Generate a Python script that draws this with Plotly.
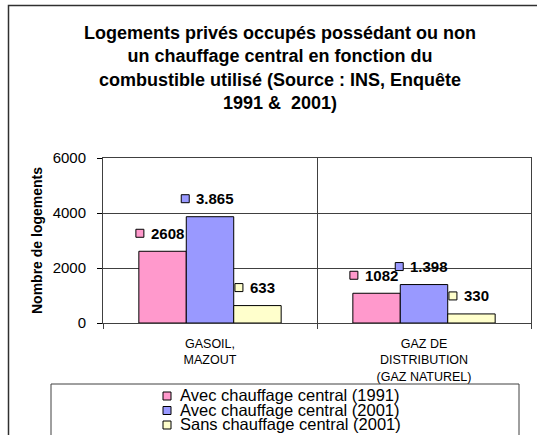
import plotly.graph_objects as go

# ---- data ----
categories = ["GASOIL,<br>MAZOUT", "GAZ DE<br>DISTRIBUTION<br>(GAZ NATUREL)"]
series_names = ["Avec chauffage central (1991)",
                "Avec chauffage central (2001)",
                "Sans chauffage central (2001)"]
values_1991_avec = [2608, 1082]
values_2001_avec = [3865, 1398]
values_2001_sans = [633, 330]
label_1991_avec = ["2608", "1082"]
label_2001_avec = ["3.865", "1.398"]
label_2001_sans = ["633", "330"]
y_ticks = [0, 2000, 4000, 6000]

series_values = [values_1991_avec, values_2001_avec, values_2001_sans]
series_labels = [label_1991_avec, label_2001_avec, label_2001_sans]
colors = ["#FF99CC", "#9999FF", "#FFFFCC"]

FONT = "Liberation Sans, Arial, sans-serif"
W, H = 537, 435
ML, MR, MT, MB = 103, 6, 158, 112
PW = W - ML - MR
PH = H - MT - MB
BARGAP = 0.335
NSER = len(series_values)
BW = (1 - BARGAP) / NSER


def px(xp):
    return (xp - ML) / PW


def py(yp):
    return (H - MB - yp) / PH


fig = go.Figure()
for name, vals, col in zip(series_names, series_values, colors):
    fig.add_trace(go.Bar(
        x=categories, y=vals, name=name,
        marker=dict(color=col, line=dict(color="black", width=1)),
        showlegend=False,
    ))

annotations = []
shapes = []
LBL_SIZE = 15
for k, (vals, labs, col) in enumerate(zip(series_values, series_labels, colors)):
    for i, (v, t) in enumerate(zip(vals, labs)):
        xc = i + (k - (NSER - 1) / 2) * BW
        tw = sum(0.278 if c == "." else 0.556 for c in t) * LBL_SIZE
        g = 9 + 5 + tw
        left = -g / 2 - 3
        shapes.append(dict(
            type="rect", xref="x", yref="y", xsizemode="pixel", ysizemode="pixel",
            xanchor=xc, yanchor=v, x0=left, x1=left + 8, y0=14, y1=22,
            fillcolor=col, line=dict(color="black", width=1), layer="above"))
        annotations.append(dict(
            x=xc, y=v, xref="x", yref="y", text="<b>%s</b>" % t,
            showarrow=False, xanchor="left", yanchor="middle",
            xshift=left + 13, yshift=18,
            font=dict(family=FONT, size=LBL_SIZE, color="black")))

# outer chart frame
shapes.append(dict(type="rect", xref="paper", yref="paper",
                   x0=px(8.5), x1=px(560), y0=py(5.5), y1=py(460),
                   line=dict(color="#303030", width=1.5), layer="above"))

# legend box (drawn manually)
shapes.append(dict(type="rect", xref="paper", yref="paper",
                   x0=px(51), x1=px(519), y0=py(384), y1=py(450),
                   line=dict(color="#404040", width=1), fillcolor="white", layer="above"))
leg_y = [396, 410.5, 425]
for name, col, yy in zip(series_names, colors, leg_y):
    shapes.append(dict(type="rect", xref="paper", yref="paper",
                       x0=px(163), x1=px(171), y0=py(yy - 4), y1=py(yy + 4),
                       fillcolor=col, line=dict(color="black", width=1), layer="above"))
    annotations.append(dict(x=px(178), y=py(yy - 1), xref="paper", yref="paper",
                            text=name, showarrow=False, xanchor="left", yanchor="middle",
                            font=dict(family=FONT, size=16.5, color="black")))

fig.update_layout(
    template="none",
    width=W, height=H,
    margin=dict(l=ML, r=MR, t=MT, b=MB, pad=0),
    paper_bgcolor="white", plot_bgcolor="white",
    barmode="group", bargap=BARGAP, bargroupgap=0,
    font=dict(family=FONT, color="black"),
    title=dict(
        text="<b>Logements privés occupés possédant ou non<br>un chauffage central en fonction du<br>"
             "combustible utilisé (Source : INS, Enquête<br>1991 &  2001)</b>",
        x=px(280), xref="paper", xanchor="center",
        y=1 - 39 / H, yref="container", yanchor="top",
        font=dict(family=FONT, size=18, color="black")),
    xaxis=dict(
        type="category", tickson="boundaries", ticks="outside", ticklen=5,
        tickcolor="#404040", showgrid=True, gridcolor="#404040", gridwidth=1,
        showline=True, linecolor="#404040", linewidth=1, mirror=True,
        automargin=False, ticklabelstandoff=9,
        tickfont=dict(family=FONT, size=12.5, color="black"),
    ),
    yaxis=dict(
        range=[0, 6000], tickvals=y_ticks, ticks="outside", ticklen=5,
        tickcolor="black", showgrid=True, gridcolor="#404040", gridwidth=1,
        showline=True, linecolor="#404040", linewidth=1, mirror=True,
        zeroline=False, automargin=False,
        tickfont=dict(family=FONT, size=15, color="black"),
        ticklabelstandoff=8,
        title=dict(text="<b>Nombre de logements</b>", standoff=6,
                   font=dict(family=FONT, size=14, color="black")),
    ),
    annotations=annotations, shapes=shapes,
)

fig.write_html("out.html", config={"displayModeBar": False},
               post_script="document.body.style.margin='0';document.body.style.overflow='hidden';")
